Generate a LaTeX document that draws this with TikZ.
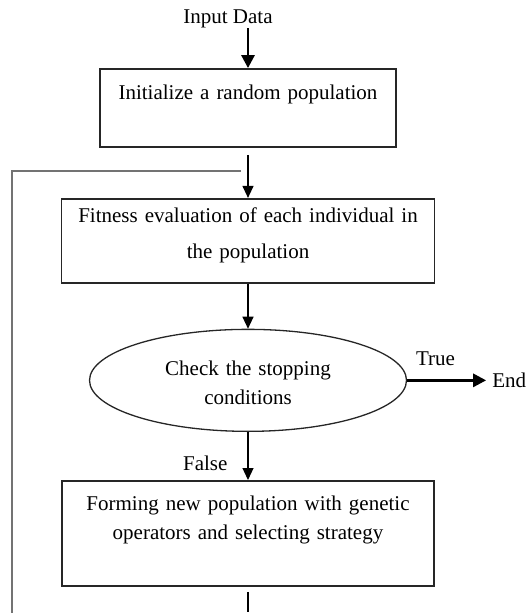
\documentclass[tikz,border=0pt]{standalone}
\usepackage{fontspec}
\setmainfont{Liberation Serif}
\usetikzlibrary{arrows.meta, calc, positioning, shapes.geometric}
\newcommand{\gafont}{\fontsize{21}{29}\selectfont}
\tikzset{
  gaarrow/.style={-{Triangle[length=12pt, width=11pt]}, line width=1.2pt},
  gabigarrow/.style={-{Triangle[length=13pt, width=13pt]}, line width=2.8pt},
  gabox/.style={rectangle, draw=black!85, line width=1.8pt, align=center, inner sep=0pt, font=\gafont},
  gaoval/.style={ellipse, draw=black!85, line width=1.3pt, align=center, inner sep=0pt, font=\gafont},
  galabel/.style={inner sep=0pt, font=\gafont},
  galoop/.style={draw=black!55, line width=1.4pt},
  galine/.style={draw=black, line width=1.6pt},
}

\begin{document}
\begin{tikzpicture}[x=1pt, y=1pt]
  \useasboundingbox (0,0) rectangle (526,-613);

  % Main steps of the algorithm.
  \node[gabox, text width=296pt, text height=30pt, text depth=48pt] (init) at (248,-108) {Initialize a random population};
  \node[galabel, above=40pt of init, xshift=-20pt] (input) {Input Data};
  \node[gabox, text width=373pt, text height=24pt, text depth=60pt, below=50pt of init] (fit)
    {Fitness evaluation of each individual in\\[7pt] the population};
  \node[gaoval, text width=200pt, text height=14pt, text depth=24.6pt, minimum width=317pt, minimum height=102pt,
    below=45pt of fit] (ell) {Check the stopping\\ conditions};
  \node[gabox, text width=372pt, text height=30pt, text depth=75pt, below=48pt of ell] (newpop)
    {Forming new population with genetic\\ operators and selecting strategy};
  \node[galabel, inner xsep=6pt, right=79pt of ell] (end) {End};

  % Loop back and way out.
  \coordinate (join) at ([yshift=-23pt]init.south);
  \coordinate (loopbot) at (12,-613);
  \coordinate (outbot) at ([yshift=-25pt]newpop.south);

  % Edges.
  \draw[gabigarrow] (input.south -| init.north) -- (init.north);
  \draw[gaarrow] ([yshift=-7pt]init.south) -- (fit.north);
  \path[gaarrow] (fit) edge (ell);
  \draw[gaarrow] (ell) -- node[galabel, pos=0.65, left=20pt] (false) {False} (newpop);
  \draw[gabigarrow] (ell) -- node[galabel, pos=0.36, above=13pt] (true) {True} (end);
  \draw[galoop] (loopbot) |- ([xshift=-7pt]join);
  \draw[galine] ([yshift=-5pt]newpop.south) -- (outbot);
\end{tikzpicture}
\end{document}
